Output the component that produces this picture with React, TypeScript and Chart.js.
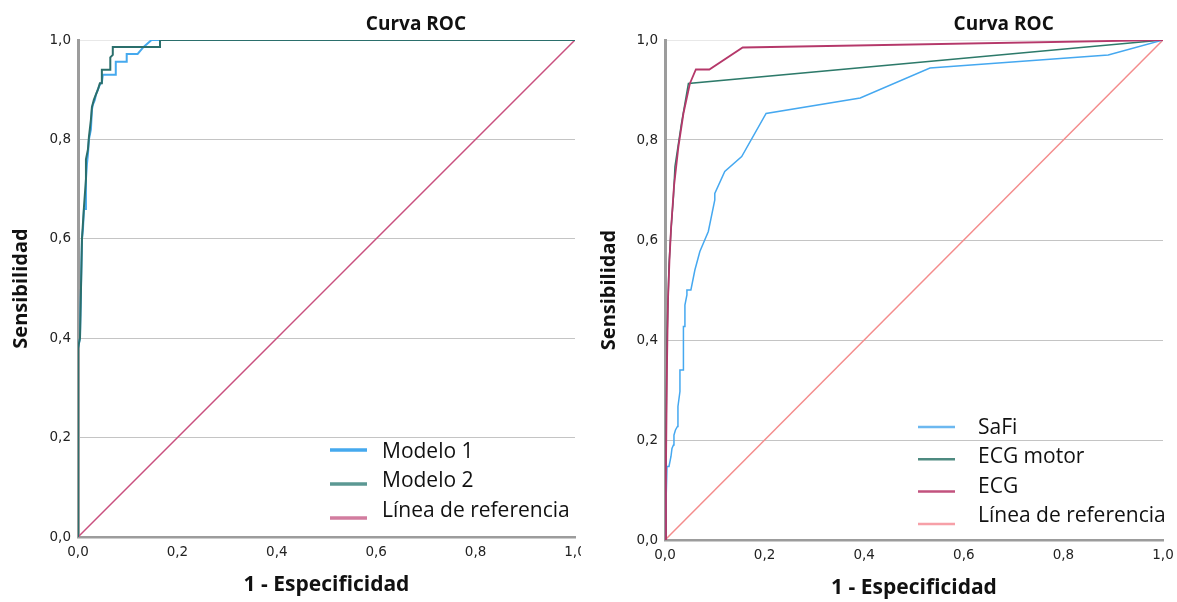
import React, { useEffect, useRef } from "react";
import { Chart, registerables } from "chart.js";

Chart.register(...registerables);

// ---------- DATA ----------
const TICK_VALUES = [0, 0.2, 0.4, 0.6, 0.8, 1.0];
const CHART_TITLE = "Curva ROC";
const X_TITLE = "1 - Especificidad";
const Y_TITLE = "Sensibilidad";

// Left chart
const LEFT_LABELS = ["Modelo 1", "Modelo 2", "Línea de referencia"];
const M1_X = [0, 0, 0.004, 0.006, 0.008, 0.010, 0.012, 0.016, 0.016, 0.018, 0.020, 0.022, 0.026, 0.028, 0.030, 0.034, 0.036, 0.040, 0.044, 0.048, 0.050, 0.076, 0.076, 0.098, 0.098, 0.120, 0.132, 0.148, 1.0];
const M1_Y = [0, 0.38, 0.40, 0.50, 0.60, 0.62, 0.66, 0.66, 0.72, 0.75, 0.77, 0.80, 0.82, 0.86, 0.87, 0.88, 0.89, 0.90, 0.91, 0.915, 0.93, 0.93, 0.956, 0.956, 0.972, 0.972, 0.986, 1.0, 1.0];
const M2_X = [0, 0, 0.004, 0.006, 0.008, 0.012, 0.016, 0.016, 0.020, 0.022, 0.026, 0.028, 0.032, 0.036, 0.040, 0.044, 0.048, 0.048, 0.065, 0.065, 0.070, 0.070, 0.165, 0.165, 1.0];
const M2_Y = [0, 0.38, 0.40, 0.50, 0.60, 0.664, 0.72, 0.76, 0.78, 0.805, 0.84, 0.865, 0.88, 0.89, 0.90, 0.913, 0.913, 0.94, 0.94, 0.965, 0.97, 0.986, 0.986, 1.0, 1.0];
const REF_X = [0, 1];
const REF_Y = [0, 1];

// Right chart
const RIGHT_LABELS = ["SaFi", "ECG motor", "ECG", "Línea de referencia"];
const SAFI_X = [0, 0.004, 0.008, 0.012, 0.014, 0.017, 0.018, 0.021, 0.025, 0.026, 0.030, 0.030, 0.037, 0.037, 0.039, 0.040, 0.044, 0.044, 0.052, 0.060, 0.070, 0.087, 0.100, 0.100, 0.120, 0.154, 0.203, 0.392, 0.532, 0.890, 1.0];
const SAFI_Y = [0, 0.147, 0.147, 0.167, 0.183, 0.190, 0.210, 0.220, 0.227, 0.267, 0.297, 0.340, 0.340, 0.427, 0.427, 0.470, 0.490, 0.500, 0.500, 0.540, 0.577, 0.617, 0.680, 0.693, 0.737, 0.767, 0.853, 0.884, 0.944, 0.970, 1.0];
const MOTOR_X = [0, 0.002, 0.004, 0.008, 0.012, 0.017, 0.020, 0.033, 0.047, 1.0];
const MOTOR_Y = [0, 0.20, 0.40, 0.55, 0.62, 0.687, 0.747, 0.833, 0.913, 1.0];
const ECG_X = [0, 0.002, 0.004, 0.006, 0.009, 0.012, 0.018, 0.027, 0.037, 0.050, 0.062, 0.089, 0.156, 1.0];
const ECG_Y = [0, 0.15, 0.35, 0.48, 0.56, 0.62, 0.707, 0.787, 0.853, 0.913, 0.941, 0.941, 0.985, 1.0];

// ---------- helpers ----------
const pts = (xs: number[], ys: number[]) => xs.map((x, i) => ({ x, y: ys[i] }));
const fmt = (v: number) => Number(v).toFixed(1).replace(".", ",");

const titlePlugin = {
  id: "rocTitle",
  afterDraw(chart: any) {
    const o = chart.options.plugins.rocTitle;
    if (!o) return;
    const { ctx, chartArea } = chart;
    ctx.save();
    ctx.font = "bold 19px 'Open Sans'";
    ctx.fillStyle = "#111";
    ctx.textAlign = "center";
    ctx.textBaseline = "alphabetic";
    ctx.fillText(o.text, chartArea.left + o.frac * (chartArea.right - chartArea.left), o.baseline);
    ctx.restore();
  },
};

const legendPlugin = {
  id: "rocLegend",
  afterDraw(chart: any) {
    const o = chart.options.plugins.rocLegend;
    if (!o) return;
    const { ctx, chartArea } = chart;
    ctx.save();
    ctx.font = "21px 'Open Sans'";
    ctx.textAlign = "left";
    ctx.textBaseline = "middle";
    chart.data.datasets.forEach((ds: any, i: number) => {
      const ly = chartArea.bottom - o.lineTop + i * o.lineStep;
      ctx.strokeStyle = o.colors ? o.colors[i] : ds.borderColor;
      ctx.lineWidth = o.lineWidth;
      ctx.beginPath();
      ctx.moveTo(chartArea.right - o.lineX0, ly);
      ctx.lineTo(chartArea.right - o.lineX1, ly);
      ctx.stroke();
      const ty = chartArea.bottom - o.textTop + i * o.textStep;
      ctx.fillStyle = "#111";
      ctx.fillText(ds.label, chartArea.right - o.textX, ty);
    });
    ctx.restore();
  },
};

function makeOptions(cfg: { yWidth: number; xHeight: number; xTitlePad: number; rightPad: number; legend: any; }) {
  return {
    responsive: false,
    animation: false,
    devicePixelRatio: 1,
    layout: { padding: { left: 0, top: 40, right: cfg.rightPad, bottom: 0 } },
    plugins: {
      legend: { display: false },
      tooltip: { enabled: false },
      title: { display: false },
      rocTitle: { text: CHART_TITLE, frac: 0.68, baseline: 30 },
      rocLegend: cfg.legend,
    },
    elements: { point: { radius: 0 }, line: { tension: 0 } },
    scales: {
      x: {
        type: "linear",
        min: 0,
        max: 1,
        afterBuildTicks: (s: any) => { s.ticks = TICK_VALUES.map((v) => ({ value: v })); },
        afterFit: (s: any) => { s.height = cfg.xHeight; s.paddingLeft = 0; s.paddingRight = 0; },
        ticks: {
          callback: (v: any) => fmt(v),
          font: { family: "'DejaVu Sans'", size: 13.5 },
          color: "#222",
          padding: 7,
          maxRotation: 0,
          autoSkip: false,
        },
        grid: { display: false, drawTicks: false },
        border: { display: true, color: "#9c9c9c", width: 2.5 },
        title: {
          display: true,
          text: X_TITLE,
          font: { family: "'Open Sans'", size: 21, weight: "bold" },
          color: "#111",
          padding: { top: 0, bottom: cfg.xTitlePad },
        },
      },
      y: {
        type: "linear",
        min: 0,
        max: 1,
        afterBuildTicks: (s: any) => { s.ticks = TICK_VALUES.map((v) => ({ value: v })); },
        afterFit: (s: any) => { s.width = cfg.yWidth; },
        ticks: {
          callback: (v: any) => fmt(v),
          font: { family: "'DejaVu Sans'", size: 13.5 },
          color: "#222",
          padding: 7,
          autoSkip: false,
        },
        grid: {
          drawTicks: false,
          color: (c: any) => (c.tick && c.tick.value === 1 ? "#e8e8e8" : "#c4c4c4"),
          lineWidth: 1,
        },
        border: { display: true, color: "#9c9c9c", width: 3 },
        title: {
          display: true,
          text: Y_TITLE,
          font: { family: "'Open Sans'", size: 20, weight: "bold" },
          color: "#111",
          padding: { top: 9, bottom: 0 },
        },
      },
    },
  };
}

function RocChart(props: { datasets: any[]; cfg: any; width: number; height: number; left: number }) {
  const ref = useRef<HTMLCanvasElement | null>(null);
  useEffect(() => {
    if (!ref.current) return;
    const chart = new Chart(ref.current, {
      type: "line",
      data: { datasets: props.datasets },
      options: makeOptions(props.cfg) as any,
      plugins: [titlePlugin, legendPlugin],
    });
    return () => chart.destroy();
  }, []);
  return (
    <canvas
      ref={ref}
      width={props.width}
      height={props.height}
      style={{ position: "absolute", left: props.left, top: 0, width: props.width, height: props.height }}
    />
  );
}

const line = (label: string, data: any[], color: string, width: number, order: number) => ({
  label,
  data,
  borderColor: color,
  backgroundColor: color,
  borderWidth: width,
  fill: false,
  pointRadius: 0,
  order,
});

export default function App() {
  const leftDatasets = [
    line(LEFT_LABELS[0], pts(M1_X, M1_Y), "#45a9ee", 2, 1),
    line(LEFT_LABELS[1], pts(M2_X, M2_Y), "#2b6f6c", 2, 0),
    line(LEFT_LABELS[2], pts(REF_X, REF_Y), "#c9507f", 1.5, 2),
  ];
  const rightDatasets = [
    line(RIGHT_LABELS[0], pts(SAFI_X, SAFI_Y), "#45a8f0", 1.5, 1),
    line(RIGHT_LABELS[1], pts(MOTOR_X, MOTOR_Y), "#2d7a6a", 1.5, 2),
    line(RIGHT_LABELS[2], pts(ECG_X, ECG_Y), "#b5386a", 1.8, 0),
    line(RIGHT_LABELS[3], pts(REF_X, REF_Y), "#f48c8c", 1.5, 3),
  ];
  const leftCfg = {
    yWidth: 78,
    xHeight: 65,
    xTitlePad: 4,
    rightPad: 6,
    legend: {
      lineX0: 245, lineX1: 208, lineWidth: 3.5, lineTop: 87, lineStep: 34,
      textX: 193, textTop: 85, textStep: 29.5,
      colors: ["#45a9ee", "#5b9893", "#d27c9f"],
    },
  };
  const rightCfg = {
    yWidth: 77,
    xHeight: 62,
    xTitlePad: 1,
    rightPad: 14,
    legend: {
      lineX0: 245, lineX1: 208, lineWidth: 2.5, lineTop: 113, lineStep: 32.3,
      textX: 185, textTop: 112, textStep: 29.3,
      colors: ["#6cb8f0", "#4e8a80", "#c2527e", "#f7a0a8"],
    },
  };
  return (
    <div style={{ position: "fixed", left: 0, top: 0, width: 1177, height: 602, background: "#fff" }}>
      <RocChart datasets={leftDatasets} cfg={leftCfg} width={581} height={602} left={0} />
      <RocChart datasets={rightDatasets} cfg={rightCfg} width={589} height={602} left={588} />
    </div>
  );
}
